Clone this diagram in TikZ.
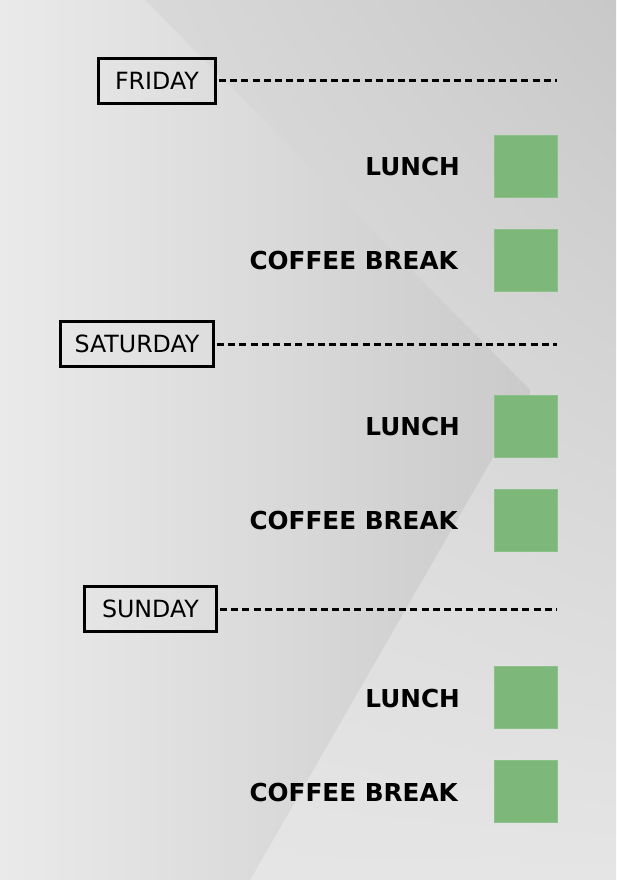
\documentclass[tikz,border=0pt]{standalone}
\usepackage{fontspec}
\setmainfont{DejaVu Sans}
\usetikzlibrary{shadings}
\definecolor{greenbox}{RGB}{125,184,122}
\definecolor{greenedge}{RGB}{140,194,137}
\definecolor{bgUL}{RGB}{222,222,222}
\definecolor{bgUR}{RGB}{200,200,200}
\definecolor{bgLL}{RGB}{229,229,229}
\definecolor{bgLR}{RGB}{229,229,229}
\definecolor{polyL}{RGB}{234,234,234}
\definecolor{polyR}{RGB}{202,202,202}
\begin{document}
\begin{tikzpicture}[x=1pt,y=-1pt,
  daybox/.style={draw=black, line width=2.8pt, minimum height=45.2pt, inner sep=0pt,
    font=\fontsize{23.7}{28}\selectfont},
  slotlabel/.style={anchor=east, inner sep=0pt, font=\fontsize{24.7}{29}\selectfont\bfseries},
  greensq/.style={fill=greenbox, draw=greenedge, line width=0.6pt, minimum width=63.4pt, minimum height=62.4pt, inner sep=0pt},
  dayline/.style={line width=3pt, dash pattern=on 7pt off 4.2pt, shorten <=2pt}
]
\useasboundingbox (0,0) rectangle (616,880);
% background
\shade[upper left=bgUL, upper right=bgUR, lower left=bgLL, lower right=bgLR] (0,0) rectangle (616,880);
\shade[left color=polyL, right color=polyR] (0,0) -- (145,0) -- (530,390) -- (530,393) -- (250,880) -- (0,880) -- cycle;

% days
\node[daybox, minimum width=117.2pt] (fri) at (157,81) {FRIDAY};
\node[daybox, minimum width=153.2pt] (sat) at (137,344) {SATURDAY};
\node[daybox, minimum width=132.2pt] (sun) at (150.5,609) {SUNDAY};
\coordinate (friend) at (557,81);
\coordinate (satend) at (557,344);
\coordinate (sunend) at (557,609);
\draw[dayline] (fri.east) -- (friend);
\draw[dayline] (sat.east) -- (satend);
\draw[dayline] (sun.east) -- (sunend);

% slots
\node[greensq] (fl) at (526,166.5) {};
\node[greensq] (fc) at (526,260.5) {};
\node[greensq] (sl) at (526,426.5) {};
\node[greensq] (sc) at (526,520.5) {};
\node[greensq] (ul) at (526,697.5) {};
\node[greensq] (uc) at (526,791.5) {};

\node[slotlabel] (fll) at (460,167) {LUNCH};
\node[slotlabel] (fcl) at (458,261) {COFFEE BREAK};
\node[slotlabel] (sll) at (460,427) {LUNCH};
\node[slotlabel] (scl) at (458,521) {COFFEE BREAK};
\node[slotlabel] (ull) at (460,698) {LUNCH};
\node[slotlabel] (ucl) at (458,792) {COFFEE BREAK};
\end{tikzpicture}
\end{document}
